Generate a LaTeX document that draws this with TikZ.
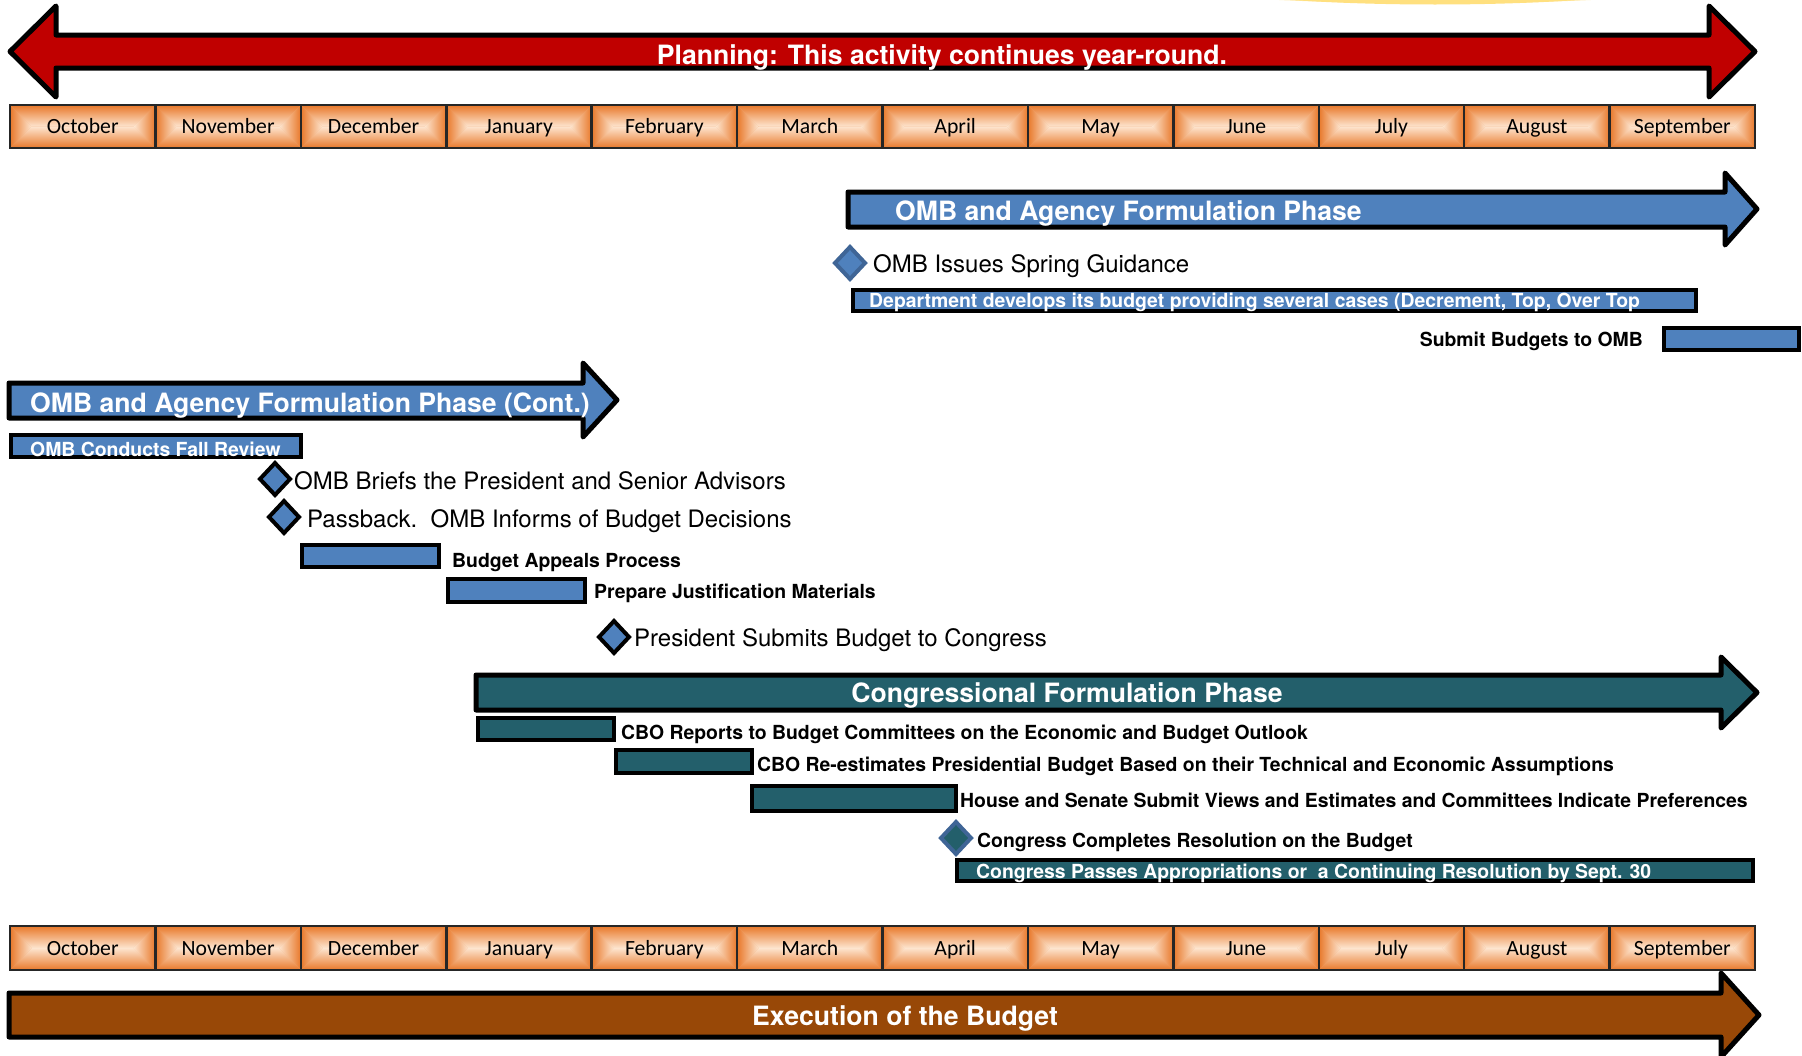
\documentclass[tikz,border=0pt]{standalone}
\usepackage{fontspec}
\setmainfont{TeX Gyre Heros}
\newfontfamily\calib{Carlito}
\definecolor{planred}{HTML}{C00000}
\definecolor{omblue}{HTML}{4F81BD}
\definecolor{dkblue}{HTML}{3F6596}
\definecolor{teal2}{HTML}{235F6B}
\definecolor{execbrown}{HTML}{984807}
\definecolor{medge}{HTML}{E8782A}
\definecolor{mcenter}{HTML}{FDE5CF}
\definecolor{mmid}{HTML}{F3AE78}
\definecolor{glow}{HTML}{FFE07F}
\tikzset{
  bigarrow/.style={draw=black, line width=5pt, line join=round},
  barbox/.style={draw=black, line width=4pt},
  msdiamond/.style={line width=4pt, line join=miter},
  whitehead/.style={text=white, font=\bfseries\fontsize{26.6}{30}\selectfont, inner sep=0pt},
  whitesmall/.style={text=white, font=\bfseries\fontsize{19.4}{22}\selectfont, inner sep=0pt},
  blacksmall/.style={text=black, font=\bfseries\fontsize{19.4}{22}\selectfont, inner sep=0pt},
  milestone/.style={text=black, font=\fontsize{24}{28}\selectfont, inner sep=0pt},
  monthtxt/.style={text=black, font=\calib\fontsize{21.7}{26}\selectfont, inner sep=0pt, anchor=base}
}
\newcommand\monthrow[3]{%
  \fill[mmid] (10,#1) rectangle (1755,#2);
  \foreach \m [count=\k from 0] in {October,November,December,January,February,March,April,May,June,July,August,September}{
    \pgfmathsetmacro\xa{10+\k*145.4167}
    \pgfmathsetmacro\xb{\xa+145.4167}
    \pgfmathsetmacro\ym{(#1+#2)/2}
    \pgfmathsetmacro\hh{(#2-#1)/2}
    \shade[top color=medge, bottom color=mcenter] (\xa,#1) -- (\xb,#1) -- (\xb-\hh,\ym) -- (\xa+\hh,\ym) -- cycle;
    \shade[bottom color=medge, top color=mcenter] (\xa,#2) -- (\xb,#2) -- (\xb-\hh,\ym) -- (\xa+\hh,\ym) -- cycle;
    \shade[left color=medge, right color=mcenter] (\xa,#1) -- (\xa+\hh,\ym) -- (\xa,#2) -- cycle;
    \shade[right color=medge, left color=mcenter] (\xb,#1) -- (\xb-\hh,\ym) -- (\xb,#2) -- cycle;
    \draw[line width=2.5pt, black!85] (\xa,#1) -- (\xa,#2);
    \node[monthtxt] (#3\k) at (\xa+72.7,\ym+7) {\m};
  }
  \draw[line width=2.5pt, black!85] (10,#1) rectangle (1755,#2);
}
\begin{document}
\begin{tikzpicture}[x=1pt,y=-1pt]
\useasboundingbox (0,0) rectangle (1802,1055);
\begin{scope}
\clip (0,0) rectangle (1802,1055);
% glow at top
\fill[glow!25!white] (1435,-30) ellipse (400 and 32);
\fill[glow!60!white] (1435,-30) ellipse (350 and 33.5);
\fill[glow] (1435,-30) ellipse (290 and 34.5);

% planning arrow
\draw[bigarrow, fill=planred] (10,51.5) -- (56,6) -- (56,35) -- (1709,35) -- (1709,6) -- (1755,51.5) -- (1709,97) -- (1709,68) -- (56,68) -- (56,97) -- cycle;
\node[whitehead, anchor=base] (plan) at (942,64) {Planning: This activity continues year-round.};

% month rows
\monthrow{105}{148}{mt}
\monthrow{926}{970}{mb}

% OMB and Agency Formulation Phase
\draw[bigarrow, fill=omblue] (848,192) -- (1725,192) -- (1725,173) -- (1757,209) -- (1725,245) -- (1725,227) -- (848,227) -- cycle;
\node[whitehead, anchor=base west] (omb) at (895,220) {OMB and Agency Formulation Phase};

\draw[msdiamond, draw=dkblue, fill=omblue] (850,247) -- (865,263) -- (850,279) -- (835,263) -- cycle;
\node[milestone, anchor=base west] (spring) at (873,272) {OMB Issues Spring Guidance};

\draw[barbox, fill=omblue] (853,290) rectangle (1696,311);
\node[whitesmall, anchor=base west] (dept) at (869,307) {Department develops its budget providing several cases (Decrement, Top, Over Top};

\draw[barbox, fill=omblue] (1664,328) rectangle (1799,350);
\node[blacksmall, anchor=base east] (submit) at (1643,346) {Submit Budgets to OMB};

% Cont phase
\draw[bigarrow, fill=omblue] (9,383) -- (583,383) -- (583,363) -- (617,400) -- (583,437) -- (583,418) -- (9,418) -- cycle;
\node[whitehead, anchor=base west] (ombc) at (30,412) {OMB and Agency Formulation Phase (Cont.)};

\draw[barbox, fill=omblue] (11,435) rectangle (301,457);
\node[whitesmall, anchor=base west] (fall) at (30,456) {OMB Conducts Fall Review};

\draw[msdiamond, draw=black, fill=omblue] (275,463) -- (290,479) -- (275,495) -- (260,479) -- cycle;
\node[milestone, anchor=base west] (briefs) at (294,489) {OMB Briefs the President and Senior Advisors};

\draw[msdiamond, draw=black, fill=omblue] (284,501) -- (299,517) -- (284,533) -- (269,517) -- cycle;
\node[milestone, anchor=base west] (pass) at (307,527) {Passback.\ \ OMB Informs of Budget Decisions};

\draw[barbox, fill=omblue] (302,545) rectangle (439,567);
\node[blacksmall, anchor=base west] (appeal) at (452,567) {Budget Appeals Process};

\draw[barbox, fill=omblue] (448,579) rectangle (585,602);
\node[blacksmall, anchor=base west] (prep) at (594,598) {Prepare Justification Materials};

\draw[msdiamond, draw=black, fill=omblue] (614,621) -- (629,637) -- (614,653) -- (599,637) -- cycle;
\node[milestone, anchor=base west] (pres) at (634,646) {President Submits Budget to Congress};

% Congressional phase
\draw[bigarrow, fill=teal2] (476,675) -- (1721,675) -- (1721,657) -- (1757,692.5) -- (1721,728) -- (1721,710) -- (476,710) -- cycle;
\node[whitehead, anchor=base] (cong) at (1067,702) {Congressional Formulation Phase};

\draw[barbox, fill=teal2] (478,718) rectangle (614,740);
\node[blacksmall, anchor=base west] (cbo1) at (621,739) {CBO Reports to Budget Committees on the Economic and Budget Outlook};

\draw[barbox, fill=teal2] (616,750) rectangle (752,773);
\node[blacksmall, anchor=base west] (cbo2) at (757,771) {CBO Re-estimates Presidential Budget Based on their Technical and Economic Assumptions};

\draw[barbox, fill=teal2] (752,786) rectangle (956,811);
\node[blacksmall, anchor=base west] (house) at (960,807) {House and Senate Submit Views and Estimates and Committees Indicate Preferences};

\draw[msdiamond, draw=dkblue, fill=teal2] (956,822) -- (971,838) -- (956,854) -- (941,838) -- cycle;
\node[blacksmall, anchor=base west] (resol) at (977,847) {Congress Completes Resolution on the Budget};

\draw[barbox, fill=teal2] (957,860) rectangle (1753,881);
\node[whitesmall, anchor=base west] (approp) at (976,878) {Congress Passes Appropriations or\ \ a Continuing Resolution by Sept. 30};

% Execution
\draw[bigarrow, fill=execbrown] (9,993) -- (1721,993) -- (1721,973) -- (1759,1015) -- (1721,1057) -- (1721,1037) -- (9,1037) -- cycle;
\node[whitehead, anchor=base] (exec) at (905,1025) {Execution of the Budget};
\end{scope}
\end{tikzpicture}
\end{document}
